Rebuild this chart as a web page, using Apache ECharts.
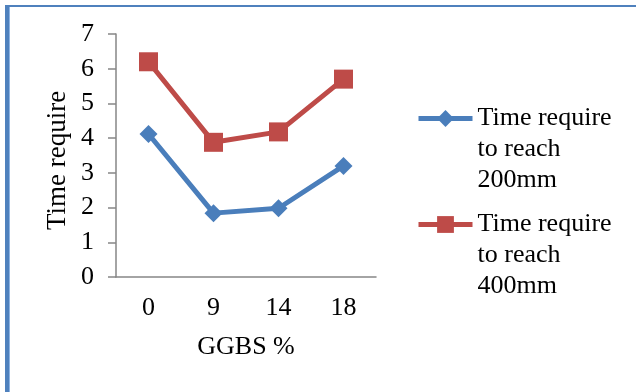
<!DOCTYPE html>
<html>
<head>
<meta charset="utf-8">
<script src="https://cdn.jsdelivr.net/npm/echarts@6/dist/echarts.min.js"></script>
<style>
  html, body { margin: 0; padding: 0; background: #ffffff; }
  #frame {
    position: absolute; left: 0; top: 0; width: 636px; height: 392px;
    overflow: hidden; background: #ffffff;
  }
  #border {
    position: absolute; left: 5px; top: 5px; width: 700px; height: 385px;
    border-left: 4px solid #4f81bd; border-top: 2px solid #4f81bd;
    border-bottom: 1px solid #d6deea;
    box-shadow: inset 1px 0 0 #8db3e2;
  }
  #chart { position: absolute; left: 0; top: 0; width: 636px; height: 392px; }
</style>
</head>
<body>
<div id="frame">
  <div id="border"></div>
  <div id="chart"></div>
</div>
<script>
// GGBS replacement levels (%)
const categories = ['0', '9', '14', '18'];
// Time required for the flow to reach 200 mm and 400 mm
const time200 = [4.12, 1.84, 1.98, 3.2];
const time400 = [6.2, 3.88, 4.18, 5.7];
const name200 = 'Time require\nto reach\n200mm';
const name400 = 'Time require\nto reach\n400mm';

const serif = 'Liberation Serif, Times New Roman, serif';
const blue = '#4a7ebb';
const red = '#be4b48';

const chart = echarts.init(document.getElementById('chart'), null, { renderer: 'canvas' });

// two blank lines above the entry keep the first text line level with the icon
const legendBase = {
  orient: 'vertical', left: 416, padding: 0,
  itemWidth: 54, itemHeight: 21, itemGap: 0,
  formatter: (n) => '\n\n' + n,
  lineStyle: { width: 5 },
  textStyle: { fontFamily: serif, fontSize: 26, color: '#000', lineHeight: 31 }
};

chart.setOption({
  animation: false,
  backgroundColor: 'transparent',
  grid: { left: 116, right: 260, top: 34, bottom: 115, containLabel: false },
  legend: [
    Object.assign({ data: [name200], top: 41 }, legendBase),
    Object.assign({ data: [name400], top: 147 }, legendBase)
  ],
  xAxis: {
    type: 'category',
    data: categories,
    boundaryGap: true,
    name: 'GGBS %',
    nameLocation: 'middle',
    nameGap: 57,
    nameTextStyle: { fontFamily: serif, fontSize: 26, color: '#000' },
    axisLine: { lineStyle: { color: '#868686', width: 1.5 } },
    axisTick: { show: false },
    axisLabel: { fontFamily: serif, fontSize: 26, color: '#000', margin: 18 },
    splitLine: { show: false }
  },
  yAxis: {
    type: 'value',
    min: 0, max: 7, interval: 1,
    name: 'Time require',
    nameLocation: 'middle',
    nameGap: 45,
    nameTextStyle: { fontFamily: serif, fontSize: 27, color: '#000', padding: [0, 10, 0, 0] },
    axisLine: { show: true, lineStyle: { color: '#868686', width: 1.5 } },
    axisTick: { show: true, length: 8, lineStyle: { color: '#868686', width: 1.5 } },
    axisLabel: { fontFamily: serif, fontSize: 26, color: '#000', margin: 22 },
    splitLine: { show: false }
  },
  series: [
    {
      name: name200,
      type: 'line',
      data: time200,
      symbol: 'diamond',
      symbolSize: 18,
      color: blue,
      lineStyle: { color: blue, width: 5 },
      itemStyle: { color: blue }
    },
    {
      name: name400,
      type: 'line',
      data: time400,
      symbol: 'rect',
      symbolSize: 19,
      color: red,
      lineStyle: { color: red, width: 5 },
      itemStyle: { color: red }
    }
  ]
});
</script>
</body>
</html>
